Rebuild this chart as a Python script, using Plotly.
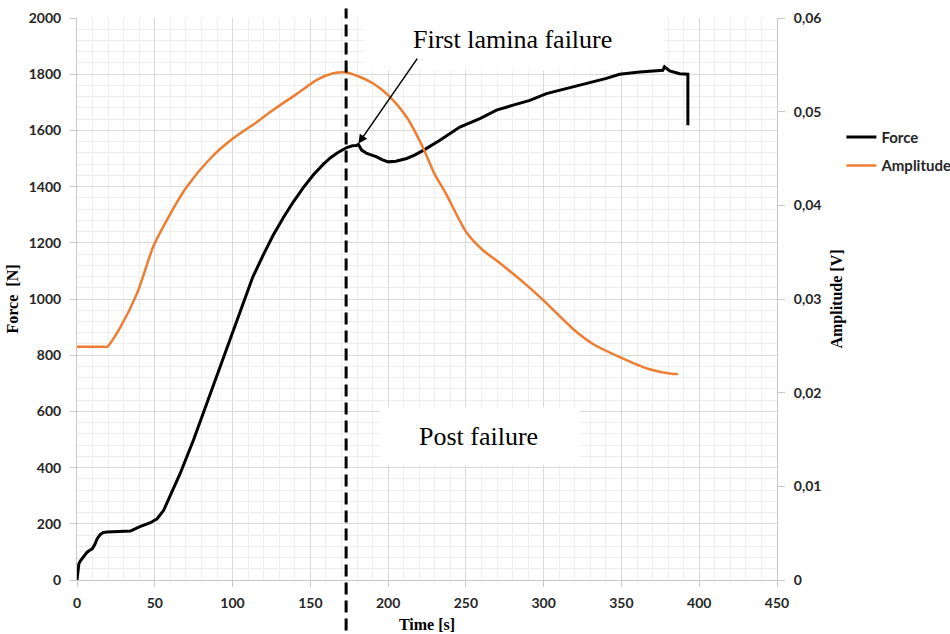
import plotly.graph_objects as go

# ---- data ----
force_t = [0, 0.6, 1.2, 2.2, 3.3, 4.8, 6.5, 8.2, 9.8, 11.5, 13, 15, 17, 19.4, 25, 30, 34.3,
           40.8, 47.2, 51.5, 55.7, 60, 64.3, 66.4, 75, 83.6, 92.5, 98.5, 107, 113, 120,
           126, 132.7, 139, 145.6, 152, 158.4, 163, 167, 170, 173.4, 177, 179.5, 180.9,
           183, 186.3, 192.7, 196, 200.1, 205, 211.9, 217, 222.6, 233.3, 246.1, 259,
           269.7, 280.4, 291.1, 301.8, 314.6, 327.5, 340.3, 348.8, 361.7, 376.6, 377.7,
           381, 387.4, 392.7, 392.7]
force_v = [0, 35, 58, 68, 76, 88, 99, 106, 111, 127, 147, 162, 169, 171, 172, 171, 174,
           191, 204, 218, 248, 301, 354, 380, 500, 630, 770, 862, 990, 1078, 1160,
           1226, 1290, 1345, 1397, 1442, 1480, 1503, 1519, 1529, 1539, 1545, 1546, 1550,
           1530, 1518, 1506, 1496, 1488, 1490, 1500, 1512, 1529, 1565, 1612, 1642,
           1672, 1690, 1707, 1731, 1749, 1767, 1785, 1800, 1808, 1814, 1826,
           1812, 1802, 1800, 1618]

amp_t = [0, 17.5, 19.4, 27.9, 38.6, 49.3, 60, 70.7, 85.7, 100, 115.7, 126.3, 141.3, 154.2,
         164.8, 172.3, 182, 190.5, 201, 212, 222.6, 230, 237, 250.4, 261, 269.7, 286.8,
         299.6, 318.9, 331.7, 348.9, 368.1, 383, 386.3]
amp_v = [0.0249, 0.0249, 0.0249, 0.0270, 0.0306, 0.0357, 0.0391, 0.0420, 0.0450, 0.0471,
         0.0489, 0.0502, 0.0519, 0.0534, 0.0541, 0.0542, 0.0537, 0.0530, 0.0516, 0.0494,
         0.0461, 0.0433, 0.0413, 0.0371, 0.0352, 0.0341, 0.0318, 0.0299, 0.0268, 0.0252,
         0.0238, 0.0225, 0.0220, 0.0220]

amp_tick_vals = [0, 0.01, 0.02, 0.03, 0.04, 0.05, 0.06]
amp_tick_text = ["0", "0,01", "0,02", "0,03", "0,04", "0,05", "0,06"]

failure_time = 173
arrow_head = (180.9, 1553)
arrow_tail = (219.4, 1861)

SANS = "Lato"
SERIF = "Liberation Serif, Times New Roman, serif"
TICKC = "#262626"
GRID = "#d9d9d9"
MINOR = "#eeeeee"
AXLINE = "#c8c8c8"

fig = go.Figure()
fig.add_trace(go.Scatter(x=force_t, y=force_v, name="Force", mode="lines",
                         line=dict(color="black", width=3), legendgroup="f"))
fig.add_trace(go.Scatter(x=amp_t, y=amp_v, name="Amplitude", mode="lines", yaxis="y2",
                         line=dict(color="#ED7D31", width=2.5, shape="spline", smoothing=0.7),
                         legendgroup="a"))

tickfont = dict(family=SANS, size=14, color=TICKC, weight="bold")
titlefont = dict(family=SERIF, size=16, color="black", weight="bold")

fig.update_layout(
    width=950, height=634,
    margin=dict(l=77, r=173, t=18, b=54, autoexpand=False),
    paper_bgcolor="white", plot_bgcolor="white",
    showlegend=True,
    legend=dict(x=1.092, y=0.817, xanchor="left", yanchor="top",
                font=dict(family=SANS, size=15, color=TICKC, weight="bold"),
                itemwidth=30, tracegroupgap=6, bgcolor="rgba(0,0,0,0)"),
    xaxis=dict(range=[0, 450], tick0=0, dtick=50, showgrid=True, gridcolor=GRID, gridwidth=1,
               minor=dict(dtick=10, showgrid=True, gridcolor=MINOR, ticks=""),
               showline=True, linecolor=AXLINE, linewidth=1, ticks="outside", ticklen=6,
               tickcolor=AXLINE, tickfont=tickfont, zeroline=False, automargin=False,
               ticklabelstandoff=4,
               title=dict(text="Time [s]", font=titlefont, standoff=9)),
    yaxis=dict(range=[0, 2000], tick0=0, dtick=200, showgrid=True, gridcolor=GRID, gridwidth=1,
               minor=dict(dtick=40, showgrid=True, gridcolor=MINOR, ticks=""),
               showline=True, linecolor=AXLINE, linewidth=1, ticks="outside", ticklen=6,
               tickcolor=AXLINE, tickfont=tickfont, zeroline=False, automargin=False,
               ticklabelstandoff=6,
               title=dict(text="Force  [N]", font=titlefont, standoff=6)),
    yaxis2=dict(range=[0, 0.06], overlaying="y", side="right", tickvals=amp_tick_vals,
                ticktext=amp_tick_text, showgrid=False, showline=True, linecolor=AXLINE,
                linewidth=1, ticks="outside", ticklen=7, tickcolor=AXLINE, tickfont=tickfont,
                zeroline=False, automargin=False, ticklabelstandoff=6,
                title=dict(text="Amplitude [V]", font=titlefont, standoff=10)),
)

# white label boxes (cover the grid, below the traces)
fig.add_shape(type="rect", xref="x", yref="y", x0=185, x1=378, y0=1814, y1=2000,
              fillcolor="white", line=dict(width=0), layer="between")
fig.add_shape(type="rect", xref="x", yref="y", x0=195, x1=323, y0=408, y1=615,
              fillcolor="white", line=dict(width=0), layer="between")

# dashed failure line
fig.add_shape(type="line", xref="x", yref="paper", x0=failure_time, x1=failure_time,
              y0=-0.09, y1=1.017, line=dict(color="black", width=3, dash="12px,6px"),
              layer="above")

fig.add_annotation(x=280, y=1924, xref="x", yref="y", text="First lamina failure",
                   showarrow=False, font=dict(family=SERIF, size=26, color="black"))
fig.add_annotation(x=258, y=510, xref="x", yref="y", text="Post failure",
                   showarrow=False, font=dict(family=SERIF, size=26, color="black"))
fig.add_annotation(x=arrow_head[0], y=arrow_head[1], ax=arrow_tail[0], ay=arrow_tail[1],
                   xref="x", yref="y", axref="x", ayref="y", text="", showarrow=True,
                   arrowhead=2, arrowsize=1.2, arrowwidth=1.5, arrowcolor="black")

fig.write_html("out.html")
